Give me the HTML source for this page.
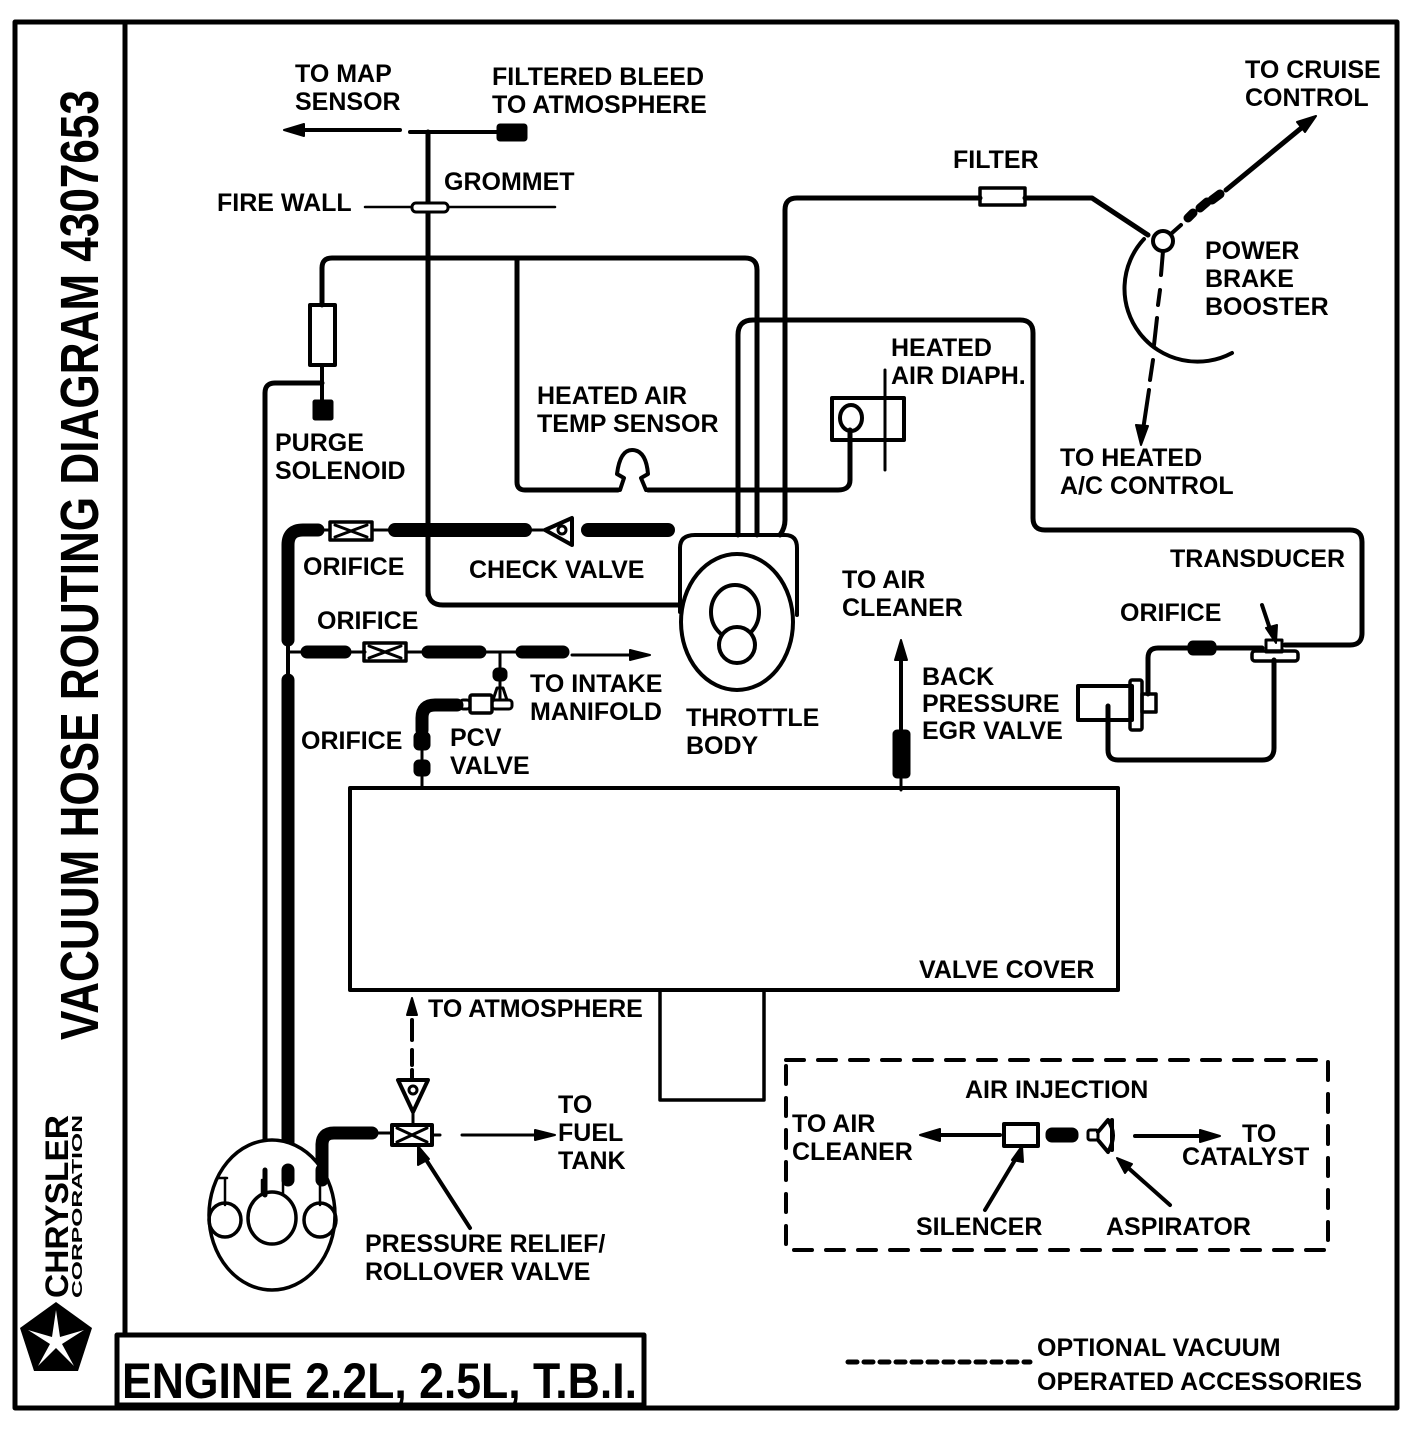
<!DOCTYPE html>
<html><head><meta charset="utf-8"><style>
html,body{margin:0;padding:0;background:#fff;}
svg{display:block;}
text{font-family:"Liberation Sans",sans-serif;font-weight:bold;fill:#000;}
</style></head><body>
<svg width="1408" height="1430" viewBox="0 0 1408 1430" xmlns="http://www.w3.org/2000/svg">
<g fill="none" stroke="#000" stroke-linecap="round" stroke-linejoin="round">
<!-- frame -->
<rect x="15" y="22" width="1382" height="1386" stroke-width="5"/>
<line x1="125" y1="22" x2="125" y2="1408" stroke-width="5"/>
<rect x="117" y="1335" width="527" height="70" stroke-width="5" fill="#fff"/>

<!-- map / bleed -->
<line x1="300" y1="130" x2="400" y2="130" stroke-width="4"/>
<path d="M284 130 L304 124 L304 136 Z" fill="#000" stroke-width="2"/>
<line x1="410" y1="132" x2="500" y2="132" stroke-width="4"/>
<rect x="497" y="124" width="30" height="17" fill="#000" rx="3" stroke-width="1"/>
<line x1="428" y1="132" x2="428" y2="595" stroke-width="5"/>
<path d="M428 590 Q428 605 443 605 L680 605" stroke-width="5"/>
<!-- firewall -->
<line x1="365" y1="207" x2="555" y2="207" stroke-width="2.5"/>
<rect x="412" y="203" width="36" height="9" rx="4" fill="#fff" stroke-width="3"/>

<!-- top hose -->
<path d="M322 305 L322 268 Q322 258 332 258 L745 258 Q757 258 757 270 L757 535" stroke-width="5"/>
<path d="M517 258 L517 482 Q517 490 525 490 L618 490" stroke-width="5"/>
<path d="M648 490 L838 490 Q850 490 850 480 L850 430" stroke-width="5"/>
<path d="M620 490 L624 478 L617 474 Q620 450 632 450 Q646 450 648 474 L641 478 L646 490" stroke-width="4" fill="#fff"/>
<!-- canister -->
<rect x="310" y="305" width="25" height="60" stroke-width="4"/>
<line x1="322" y1="365" x2="322" y2="402" stroke-width="4"/>
<rect x="313" y="400" width="20" height="20" fill="#000" rx="2" stroke-width="1"/>
<path d="M322 383 L275 383 Q265 383 265 393 L265 1185" stroke-width="5"/>
<!-- thick hose -->
<path d="M288 640 L288 545 Q288 530 303 530 L318 530" stroke-width="13"/>
<line x1="288" y1="680" x2="288" y2="1180" stroke-width="13"/>
<line x1="288" y1="600" x2="288" y2="690" stroke-width="4"/>
<line x1="318" y1="530" x2="330" y2="530" stroke-width="3"/>
<rect x="330" y="522" width="42" height="18" stroke-width="3.5"/>
<path d="M335 525 L367 537 M335 537 L367 525" stroke-width="3"/>
<line x1="372" y1="530" x2="392" y2="530" stroke-width="3"/>
<line x1="395" y1="530" x2="525" y2="530" stroke-width="14"/>
<line x1="525" y1="530" x2="548" y2="530" stroke-width="3"/>
<path d="M545 530 L572 518 L572 545 Z" stroke-width="4"/>
<circle cx="562" cy="530" r="4" stroke-width="3"/>
<line x1="588" y1="530" x2="668" y2="530" stroke-width="14"/>
<!-- second line -->
<line x1="288" y1="652" x2="305" y2="652" stroke-width="3"/>
<line x1="307" y1="652" x2="345" y2="652" stroke-width="13"/>
<line x1="345" y1="652" x2="365" y2="652" stroke-width="3"/>
<rect x="364" y="643" width="42" height="18" stroke-width="3.5"/>
<path d="M369 646 L401 658 M369 658 L401 646" stroke-width="3"/>
<line x1="406" y1="652" x2="425" y2="652" stroke-width="3"/>
<line x1="428" y1="652" x2="480" y2="652" stroke-width="13"/>
<line x1="480" y1="652" x2="520" y2="652" stroke-width="3"/>
<line x1="522" y1="652" x2="563" y2="652" stroke-width="13"/>
<line x1="572" y1="655" x2="640" y2="655" stroke-width="3"/>
<path d="M650 655 L630 650 L630 660 Z" fill="#000" stroke-width="2"/>
<!-- PCV -->
<line x1="500" y1="652" x2="500" y2="700" stroke-width="3"/>
<rect x="493" y="668" width="14" height="13" rx="5" fill="#000" stroke-width="1"/>
<path d="M497 688 L503 688 L507 700 L493 700 Z" stroke-width="3"/>
<rect x="470" y="695" width="22" height="18" rx="2" stroke-width="3.5"/>
<rect x="460" y="700" width="10" height="9" rx="3" stroke-width="3"/>
<rect x="492" y="700" width="20" height="9" rx="3" stroke-width="3"/>
<path d="M457 705 L435 705 Q422 705 422 718 L422 730" stroke-width="13"/>
<rect x="414" y="732" width="16" height="18" rx="5" fill="#000" stroke-width="1"/>
<rect x="414" y="760" width="16" height="16" rx="5" fill="#000" stroke-width="1"/>
<line x1="422" y1="728" x2="422" y2="788" stroke-width="3"/>

<!-- throttle body -->
<path d="M680 548 Q680 535 695 535 L785 535 Q797 535 797 548 L797 615" stroke-width="4"/>
<line x1="680" y1="548" x2="680" y2="612" stroke-width="4"/>
<ellipse cx="737" cy="622" rx="56" ry="68" stroke-width="4" fill="#fff"/>
<ellipse cx="735" cy="612" rx="24" ry="27" stroke-width="4"/>
<circle cx="737" cy="645" r="18" stroke-width="4" fill="#fff"/>
<!-- lines into TB -->
<path d="M738 535 L738 335 Q738 320 753 320 L1020 320 Q1033 320 1033 333 L1033 518 Q1033 530 1045 530 L1350 530 Q1362 530 1362 542 L1362 633 Q1362 645 1350 645 L1285 645" stroke-width="5"/>
<path d="M780 535 Q785 528 785 520 L785 210 Q785 198 797 198 L980 198" stroke-width="5"/>
<rect x="980" y="188" width="45" height="17" stroke-width="3.5"/>
<path d="M1025 198 L1092 198 L1148 235" stroke-width="5"/>
<!-- booster -->
<path d="M1144 239 A73 73 0 0 0 1232 353" stroke-width="4"/>
<circle cx="1163" cy="241" r="10" stroke-width="4" fill="#fff"/>
<path d="M1172 233 L1181 225" stroke-width="4"/>
<path d="M1188 218 L1193 213 M1200 208 L1207 202 M1212 200 L1220 194" stroke-width="9"/>
<line x1="1226" y1="190" x2="1305" y2="125" stroke-width="5"/>
<path d="M1316 116 L1297 122 L1305 132 Z" fill="#000" stroke-width="2"/>
<path d="M1163 251 L1161 275 M1160 290 L1158 305 M1157 318 L1154 345 M1153 360 L1150 380 M1149 390 L1143 430" stroke-width="4"/>
<path d="M1141 445 L1136 425 L1148 426 Z" fill="#000" stroke-width="2"/>
<!-- heated air diaph -->
<rect x="832" y="398" width="72" height="42" stroke-width="4"/>
<ellipse cx="851" cy="418" rx="11" ry="13" stroke-width="4"/>
<line x1="885" y1="370" x2="885" y2="470" stroke-width="3"/>
<!-- to air cleaner -->
<line x1="901" y1="655" x2="901" y2="730" stroke-width="4"/>
<path d="M901 640 L895 660 L907 660 Z" fill="#000" stroke-width="2"/>
<rect x="893" y="730" width="17" height="48" rx="4" fill="#000" stroke-width="1"/>
<line x1="901" y1="778" x2="901" y2="790" stroke-width="3"/>
<!-- EGR / transducer -->
<rect x="1078" y="686" width="54" height="34" stroke-width="4"/>
<rect x="1130" y="680" width="12" height="50" rx="2" stroke-width="3.5"/>
<rect x="1142" y="694" width="14" height="18" stroke-width="3.5"/>
<path d="M1148 694 L1148 658 Q1148 648 1158 648 L1262 648" stroke-width="5"/>
<rect x="1188" y="641" width="28" height="14" rx="5" fill="#000" stroke-width="1"/>
<rect x="1252" y="651" width="46" height="10" rx="3" stroke-width="3.5"/>
<rect x="1266" y="640" width="16" height="12" stroke-width="3"/>
<path d="M1274 660 L1274 748 Q1274 760 1262 760 L1118 760 Q1108 760 1108 750 L1108 706" stroke-width="5"/>
<line x1="1262" y1="605" x2="1272" y2="635" stroke-width="4"/>
<path d="M1276 643 L1266 628 L1277 625 Z" fill="#000" stroke-width="2"/>

<!-- valve cover -->
<rect x="350" y="788" width="768" height="202" stroke-width="4"/>
<rect x="660" y="990" width="104" height="110" stroke-width="3.5"/>
<!-- to atmosphere -->
<path d="M412 998 L407 1015 L417 1015 Z" fill="#000" stroke-width="2"/>
<path d="M412 1020 L412 1040 M412 1050 L412 1065 M412 1070 L412 1078" stroke-width="4"/>
<path d="M398 1080 L428 1080 L413 1112 Z" stroke-width="4"/>
<circle cx="413" cy="1090" r="4" stroke-width="3"/>
<line x1="413" y1="1112" x2="413" y2="1125" stroke-width="3"/>
<rect x="392" y="1125" width="40" height="20" stroke-width="4"/>
<path d="M397 1128 L427 1142 M397 1142 L427 1128" stroke-width="3"/>
<path d="M322 1180 L322 1145 Q322 1133 334 1133 L372 1133" stroke-width="13"/>
<line x1="372" y1="1133" x2="392" y2="1133" stroke-width="3"/>
<line x1="432" y1="1135" x2="440" y2="1135" stroke-width="3"/>
<line x1="462" y1="1135" x2="540" y2="1135" stroke-width="3"/>
<path d="M555 1135 L535 1130 L535 1140 Z" fill="#000" stroke-width="2"/>
<line x1="470" y1="1228" x2="423" y2="1155" stroke-width="4"/>
<path d="M418 1146 L418 1165 L429 1159 Z" fill="#000" stroke-width="2"/>
<!-- fuel tank -->
<ellipse cx="272" cy="1215" rx="63" ry="75" stroke-width="3.5" fill="#fff"/>
<line x1="265" y1="1170" x2="265" y2="1195" stroke-width="5"/>
<line x1="288" y1="1170" x2="288" y2="1180" stroke-width="13"/>
<line x1="322" y1="1170" x2="322" y2="1180" stroke-width="13"/>
<line x1="225" y1="1178" x2="225" y2="1205" stroke-width="2.5"/>
<line x1="218" y1="1178" x2="227" y2="1178" stroke-width="2.5"/>
<line x1="262" y1="1180" x2="262" y2="1195" stroke-width="2.5"/>
<line x1="283" y1="1180" x2="283" y2="1195" stroke-width="2.5"/>
<line x1="320" y1="1180" x2="320" y2="1205" stroke-width="2.5"/>
<ellipse cx="225" cy="1220" rx="16" ry="17" stroke-width="3.5"/>
<ellipse cx="272" cy="1218" rx="24" ry="26" stroke-width="3.5"/>
<ellipse cx="320" cy="1220" rx="16" ry="17" stroke-width="3.5"/>

<!-- air injection -->
<rect x="786" y="1060" width="542" height="190" stroke-width="4" stroke-dasharray="18,14"/>
<line x1="935" y1="1135" x2="1000" y2="1135" stroke-width="4"/>
<path d="M920 1135 L940 1129 L940 1141 Z" fill="#000" stroke-width="2"/>
<rect x="1004" y="1124" width="34" height="22" stroke-width="4"/>
<rect x="1046" y="1128" width="32" height="14" rx="6" fill="#000" stroke-width="1"/>
<rect x="1088" y="1130" width="10" height="10" rx="2" stroke-width="3"/>
<path d="M1098 1132 L1108 1120 Q1118 1135 1108 1152 L1098 1140" stroke-width="4"/>
<path d="M1112 1120 L1112 1150" stroke-width="4"/>
<line x1="1135" y1="1136" x2="1205" y2="1136" stroke-width="4"/>
<path d="M1220 1136 L1200 1130 L1200 1142 Z" fill="#000" stroke-width="2"/>
<line x1="985" y1="1210" x2="1018" y2="1155" stroke-width="4"/>
<path d="M1022 1146 L1012 1160 L1023 1162 Z" fill="#000" stroke-width="2"/>
<line x1="1170" y1="1205" x2="1125" y2="1165" stroke-width="4"/>
<path d="M1117 1158 L1125 1173 L1132 1164 Z" fill="#000" stroke-width="2"/>
<!-- legend -->
<line x1="848" y1="1362" x2="1030" y2="1362" stroke-width="5" stroke-dasharray="9,7"/>
</g>

<!-- pentastar -->
<g transform="translate(56,1340)">
<polygon points="0,-38 36,-12 22,31 -22,31 -36,-12" fill="#000"/>
<path d="M0,-30 L4,-3 L28,-10 L6,4 L18,26 L0,8 L-18,26 L-6,4 L-28,-10 L-4,-3 Z" fill="#fff"/>
</g>

<!-- vertical texts -->
<text transform="translate(98,1040) rotate(-90)" font-size="54" textLength="950" lengthAdjust="spacingAndGlyphs">VACUUM HOSE ROUTING DIAGRAM 4307653</text>
<text transform="translate(68,1298) rotate(-90)" font-size="32" textLength="183" lengthAdjust="spacingAndGlyphs">CHRYSLER</text>
<text transform="translate(82,1298) rotate(-90)" font-size="15" textLength="183" lengthAdjust="spacingAndGlyphs">CORPORATION</text>
<text x="122" y="1398" font-size="50" textLength="515" lengthAdjust="spacingAndGlyphs">ENGINE 2.2L,  2.5L, T.B.I.</text>

<g font-size="25">
<text x="295" y="82">TO MAP</text>
<text x="295" y="110">SENSOR</text>
<text x="492" y="85">FILTERED BLEED</text>
<text x="492" y="113">TO ATMOSPHERE</text>
<text x="444" y="190">GROMMET</text>
<text x="217" y="211">FIRE WALL</text>
<text x="1245" y="78">TO CRUISE</text>
<text x="1245" y="106">CONTROL</text>
<text x="953" y="168">FILTER</text>
<text x="1205" y="259">POWER</text>
<text x="1205" y="287">BRAKE</text>
<text x="1205" y="315">BOOSTER</text>
<text x="891" y="356">HEATED</text>
<text x="891" y="384">AIR DIAPH.</text>
<text x="537" y="404">HEATED AIR</text>
<text x="537" y="432">TEMP SENSOR</text>
<text x="275" y="451">PURGE</text>
<text x="275" y="479">SOLENOID</text>
<text x="1060" y="466">TO HEATED</text>
<text x="1060" y="494">A/C CONTROL</text>
<text x="303" y="575">ORIFICE</text>
<text x="469" y="578">CHECK VALVE</text>
<text x="1170" y="567">TRANSDUCER</text>
<text x="842" y="588">TO AIR</text>
<text x="842" y="616">CLEANER</text>
<text x="1120" y="621">ORIFICE</text>
<text x="317" y="629">ORIFICE</text>
<text x="922" y="685">BACK</text>
<text x="922" y="712">PRESSURE</text>
<text x="922" y="739">EGR VALVE</text>
<text x="530" y="692">TO INTAKE</text>
<text x="530" y="720">MANIFOLD</text>
<text x="686" y="726">THROTTLE</text>
<text x="686" y="754">BODY</text>
<text x="301" y="749">ORIFICE</text>
<text x="450" y="746">PCV</text>
<text x="450" y="774">VALVE</text>
<text x="919" y="978">VALVE COVER</text>
<text x="428" y="1017">TO ATMOSPHERE</text>
<text x="558" y="1113">TO</text>
<text x="558" y="1141">FUEL</text>
<text x="558" y="1169">TANK</text>
<text x="965" y="1098">AIR INJECTION</text>
<text x="792" y="1132">TO AIR</text>
<text x="792" y="1160">CLEANER</text>
<text x="1242" y="1142">TO</text>
<text x="1182" y="1165">CATALYST</text>
<text x="916" y="1235">SILENCER</text>
<text x="1106" y="1235">ASPIRATOR</text>
<text x="365" y="1252">PRESSURE RELIEF/</text>
<text x="365" y="1280">ROLLOVER VALVE</text>
<text x="1037" y="1356">OPTIONAL VACUUM</text>
<text x="1037" y="1390">OPERATED ACCESSORIES</text>
</g>
</svg>
</body></html>
